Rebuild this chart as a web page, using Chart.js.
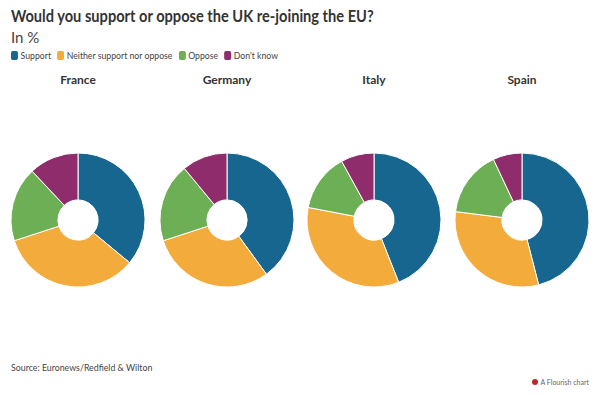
<!DOCTYPE html>
<html>
<head>
<meta charset="utf-8">
<script src="https://cdn.jsdelivr.net/npm/chart.js@4/dist/chart.umd.min.js"></script>
<style>
  body { margin: 0; width: 600px; height: 395px; background: #fff; font-family: Lato, "Open Sans", sans-serif; color: #333; position: relative; overflow: hidden; }
  .title { position: absolute; left: 11px; top: 5px; font-size: 17px; font-weight: 700; color: #333; white-space: nowrap; transform: scaleX(0.86); transform-origin: left top; }
  .sub { position: absolute; left: 11px; top: 28px; font-size: 15px; color: #444; }
  .legend { position: absolute; left: 11px; top: 49px; font-size: 10px; color: #444; display: flex; align-items: center; white-space: nowrap; transform: scaleX(0.87); transform-origin: left top; }
  .legend span.sw { display: inline-block; width: 8px; height: 9px; border-radius: 2px; margin-right: 3px; }
  .legend span.item { margin-right: 7px; display: flex; align-items: center; }
  .country { position: absolute; top: 72px; width: 140px; text-align: center; font-size: 12px; font-weight: 700; color: #333; }
  .pie { position: absolute; top: 150px; width: 140px; height: 140px; }
  .source { position: absolute; left: 11px; top: 361px; font-size: 10px; color: #444; white-space: nowrap; transform: scaleX(0.88); transform-origin: left top; }
  .flourish { position: absolute; right: 11px; top: 378px; font-size: 7px; color: #666; display: flex; align-items: center; }
  .flourish i { display: inline-block; width: 6px; height: 6px; border-radius: 50%; background: #c0272d; margin-right: 3px; }
</style>
</head>
<body>
<div class="title">Would you support or oppose the UK re-joining the EU?</div>
<div class="sub">In %</div>
<div class="legend" id="legend"></div>
<div id="charts"></div>
<div class="source">Source: Euronews/Redfield &amp; Wilton</div>
<div class="flourish"><i></i>A Flourish chart</div>

<script>
// ── Data ──────────────────────────────────────────────────────────────────────
const answers = ["Support", "Neither support nor oppose", "Oppose", "Don't know"];
const countries = ["France", "Germany", "Italy", "Spain"];
const france = [36, 34, 18, 12];
const germany = [40, 30, 19, 11];
const italy = [44, 34, 14, 8];
const spain = [46, 31, 16, 7];
const colors = ["#17668f", "#f3ab3c", "#6daf55", "#8f2c6b"];

const seriesByCountry = [france, germany, italy, spain];
const centersX = [78, 227, 374, 522];

// Legend
const legend = document.getElementById("legend");
legend.innerHTML = answers.map((a, i) =>
  `<span class="item"><span class="sw" style="background:${colors[i]}"></span>${a}</span>`
).join("");

// Donuts
const wrap = document.getElementById("charts");
countries.forEach((name, i) => {
  const label = document.createElement("div");
  label.className = "country";
  label.style.left = (centersX[i] - 70) + "px";
  label.textContent = name;
  wrap.appendChild(label);

  const box = document.createElement("div");
  box.className = "pie";
  box.style.left = (centersX[i] - 70) + "px";
  const cv = document.createElement("canvas");
  box.appendChild(cv);
  wrap.appendChild(box);

  new Chart(cv, {
    type: "doughnut",
    data: {
      labels: answers,
      datasets: [{
        data: seriesByCountry[i],
        backgroundColor: colors,
        borderColor: "#ffffff",
        borderWidth: 1,
      }],
    },
    options: {
      responsive: true,
      maintainAspectRatio: false,
      animation: false,
      radius: 67,
      cutout: "30%",
      layout: { padding: 0 },
      plugins: {
        legend: { display: false },
        tooltip: { enabled: false },
      },
    },
  });
});
</script>
</body>
</html>
